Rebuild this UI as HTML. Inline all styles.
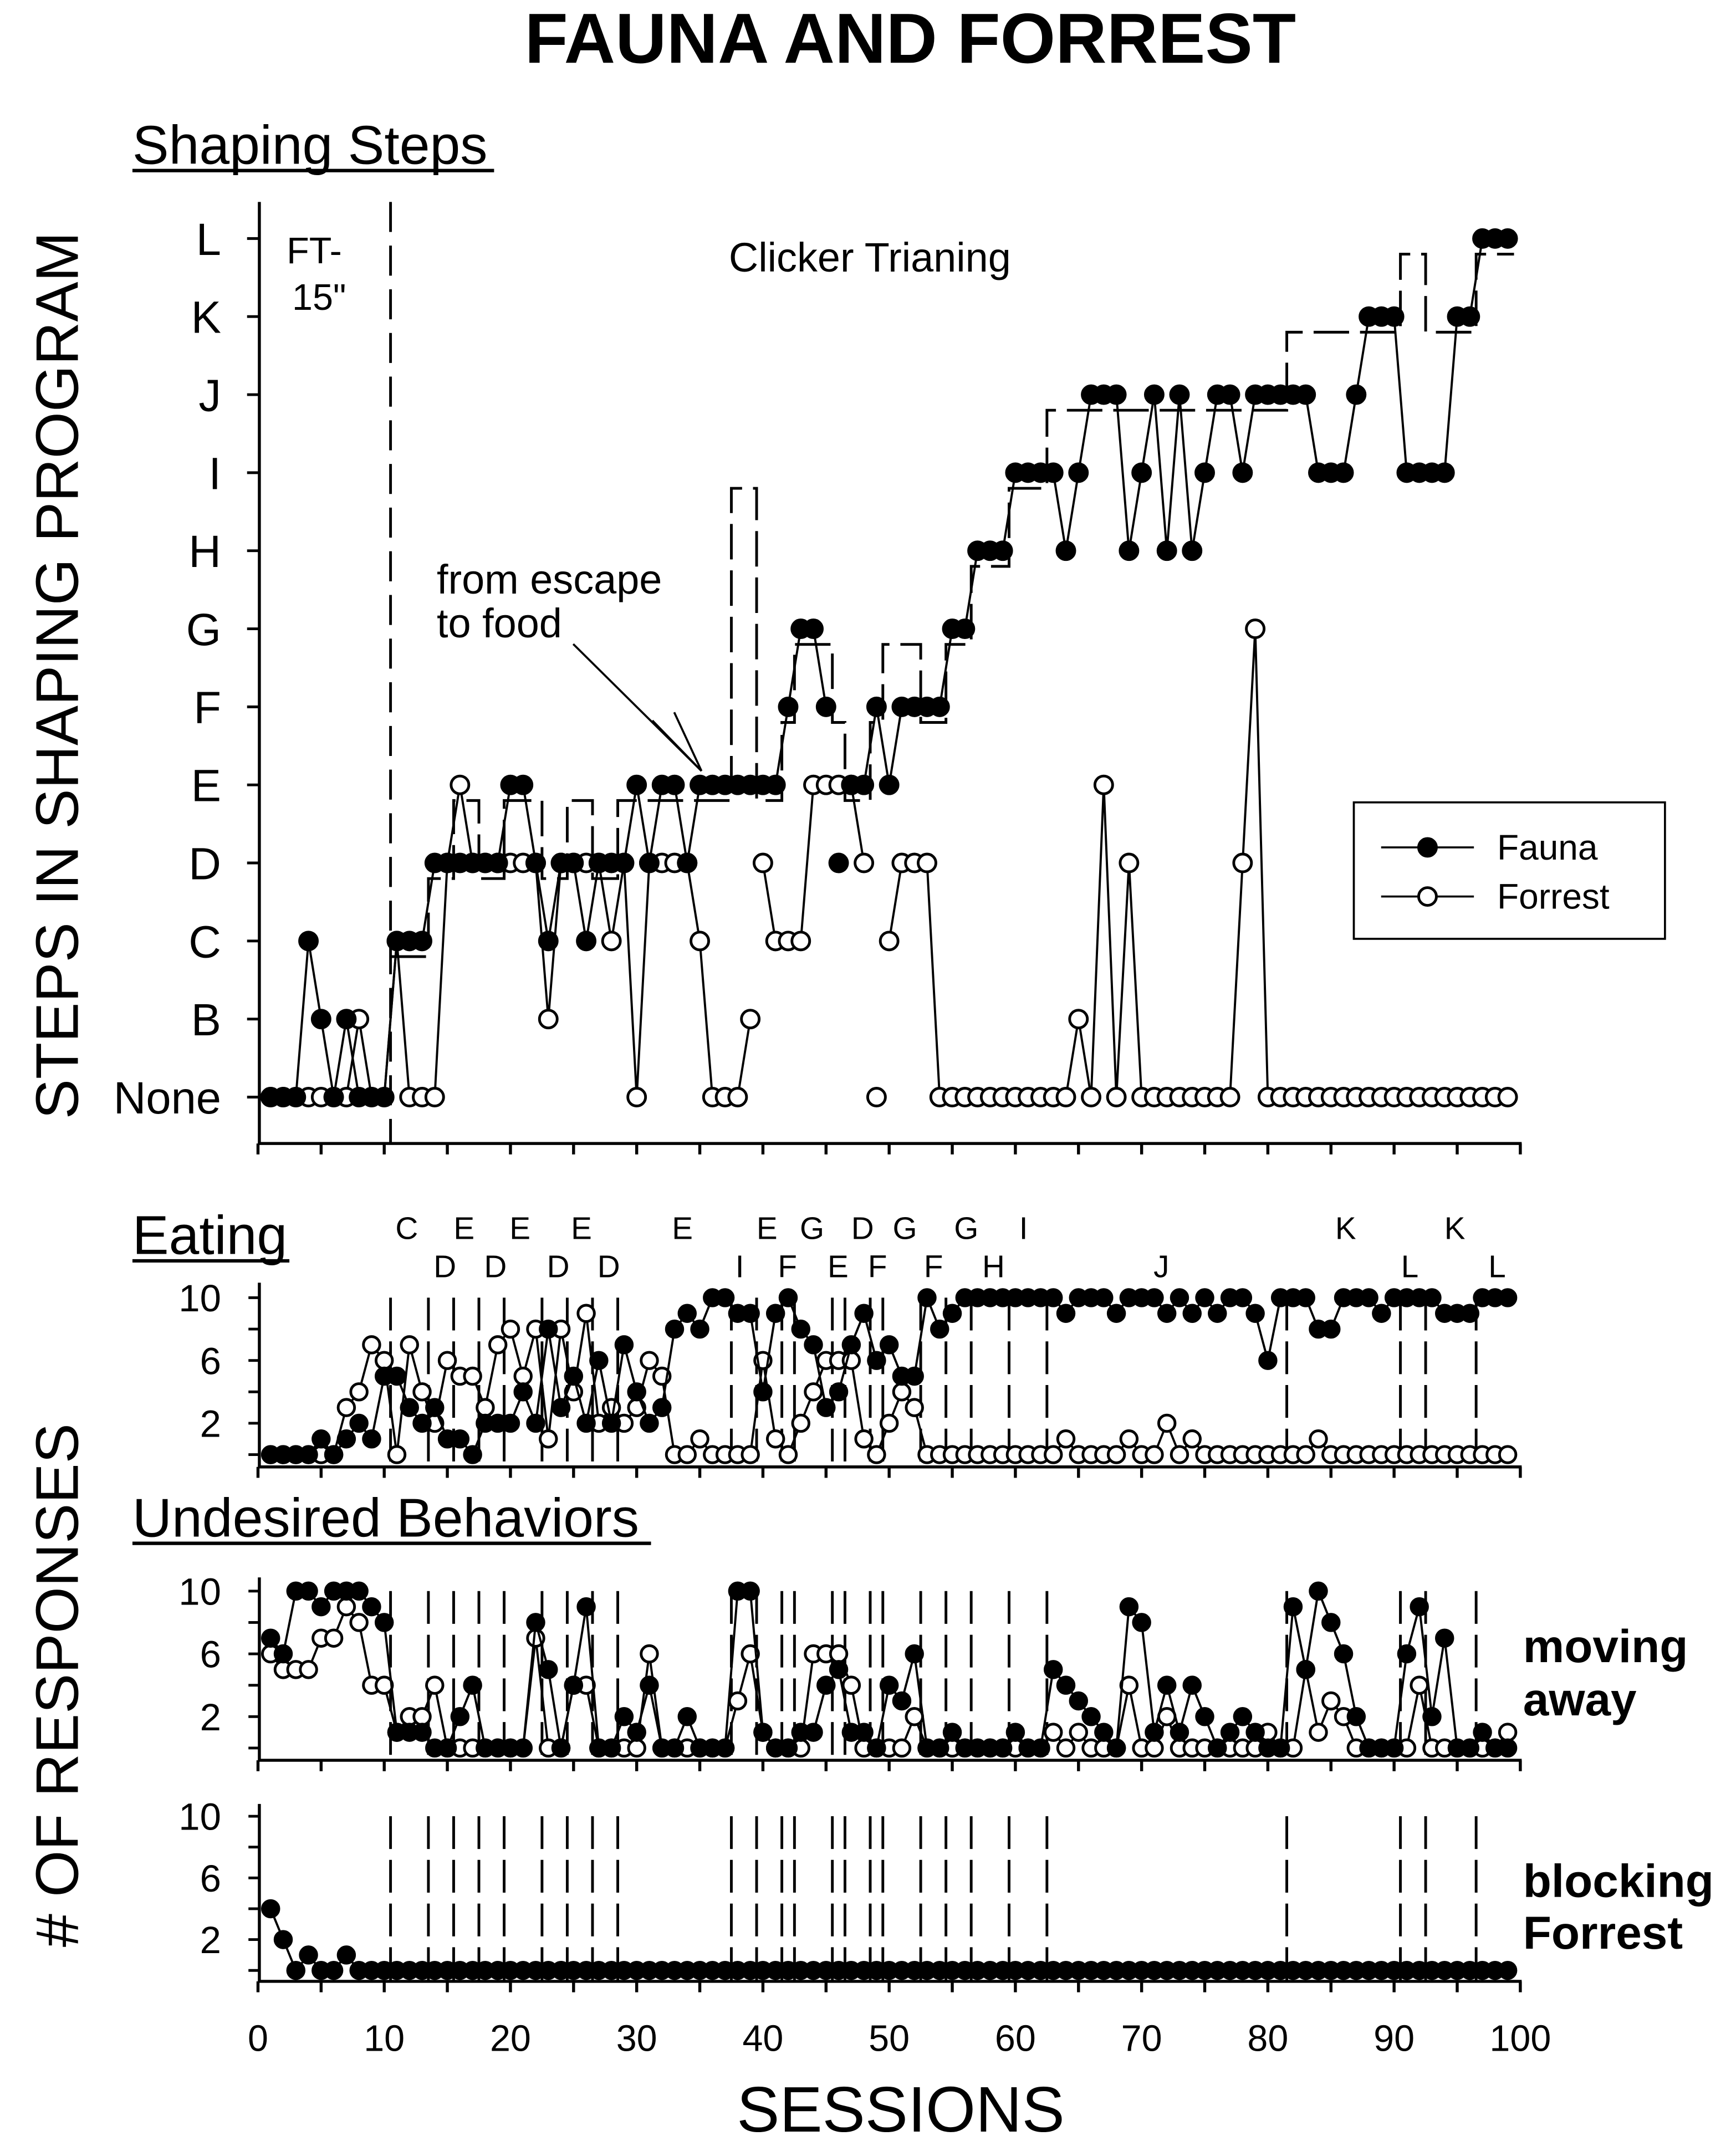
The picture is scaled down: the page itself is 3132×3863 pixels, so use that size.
<!DOCTYPE html>
<html><head><meta charset="utf-8"><style>
html,body{margin:0;padding:0;background:#fff;}
svg{display:block;}
text{font-family:"Liberation Sans",Arial,sans-serif;fill:#000;}
</style></head><body>
<svg id="chart" xmlns="http://www.w3.org/2000/svg" width="3132" height="3863" viewBox="0 0 1272 1569">
<rect x="0" y="0" width="1272" height="1569" fill="#fff"/>
<text x="667" y="46" font-size="52" font-weight="bold" text-anchor="middle">FAUNA AND FORREST</text>
<text x="97" y="120" font-size="40">Shaping Steps</text>
<line x1="97" y1="125" x2="362" y2="125" stroke="#000" stroke-width="2.5"/>
<text x="97" y="919" font-size="40">Eating</text>
<line x1="97" y1="924" x2="212" y2="924" stroke="#000" stroke-width="2.5"/>
<text x="97" y="1126" font-size="40">Undesired Behaviors</text>
<line x1="97" y1="1131" x2="477" y2="1131" stroke="#000" stroke-width="2.5"/>
<text transform="translate(57,495) rotate(-90)" font-size="44" text-anchor="middle">STEPS IN SHAPING PROGRAM</text>
<text transform="translate(57,1235) rotate(-90)" font-size="44" text-anchor="middle"># OF RESPONSES</text>
<text x="660" y="1562" font-size="47" text-anchor="middle">SESSIONS</text>
<text x="210" y="193" font-size="27">FT-</text>
<text x="214" y="227" font-size="27">15"</text>
<text x="534" y="199" font-size="30">Clicker Trianing</text>
<text x="320" y="435" font-size="30">from escape</text>
<text x="320" y="467" font-size="30">to food</text>
<g stroke="#000" stroke-width="1.5" fill="none">
<line x1="420" y1="472" x2="514" y2="565"/><line x1="478" y1="528" x2="514" y2="565"/><line x1="494" y1="522" x2="514" y2="565"/>
</g>
<g>
<rect x="992" y="588" width="228" height="100" fill="#fff" stroke="#000" stroke-width="1.5"/>
<line x1="1012" y1="621" x2="1080" y2="621" stroke="#000" stroke-width="1.5"/>
<circle cx="1046" cy="621" r="6.5" fill="#000" stroke="#000" stroke-width="2"/>
<text x="1097" y="630" font-size="26">Fauna</text>
<line x1="1012" y1="657" x2="1080" y2="657" stroke="#000" stroke-width="1.5"/>
<circle cx="1046" cy="657" r="6.5" fill="#fff" stroke="#000" stroke-width="2"/>
<text x="1097" y="666" font-size="26">Forrest</text>
</g>
<text x="1116" y="1218" font-size="34" font-weight="bold">moving</text>
<text x="1116" y="1257" font-size="34" font-weight="bold">away</text>
<text x="1116" y="1390" font-size="34" font-weight="bold">blocking</text>
<text x="1116" y="1428" font-size="34" font-weight="bold">Forrest</text>
<g id="plot"></g>
</svg>
<script>
const stepLabels = ["None","B","C","D","E","F","G","H","I","J","K","L"];
const xTickLabels = ["0","10","20","30","40","50","60","70","80","90","100"];
const countTickLabels = ["10","6","2"];
const faunaSteps = [0,0,0,2,1,0,1,0,0,0, 2,2,2,3,3,3,3,3,3,4, 4,3,2,3,3,2,3,3,3,4, 3,4,4,3,4,4,4,4,4,4, 4,5,6,6,5,3,4,4,5,4, 5,5,5,5,6,6,7,7,7,8, 8,8,8,7,8,9,9,9,7,8, 9,7,9,7,8,9,9,8,9,9, 9,9,9,8,8,8,9,10,10,10, 8,8,8,8,10,10,11,11,11];
const forrestSteps = [0,0,0,0,0,0,0,1,0,0, 2,0,0,0,3,4,3,3,3,3, 3,3,1,3,3,3,3,2,3,0, 3,3,3,3,2,0,0,0,1,3, 2,2,2,4,4,4,4,3,0,2, 3,3,3,0,0,0,0,0,0,0, 0,0,0,0,1,0,4,0,3,0, 0,0,0,0,0,0,0,3,6,0, 0,0,0,0,0,0,0,0,0,0, 0,0,0,0,0,0,0,0,0];
const faunaStepBreaks = [46,47];
const forrestStepBreaks = [40,49,50];
const criterionStart = [11,14,16,18,20,23,25,27,29,38,40,42,43,46,47,49,50,53,55,57,60,63,82,91,93,97];
const criterionLevel = [2,3,4,3,4,3,4,3,4,8,4,5,6,5,4,5,6,5,6,7,8,9,10,11,10,11];
const faunaEat = [0,0,0,0,1,0,1,2,1,5, 5,3,2,3,1,1,0,2,2,2, 4,2,8,3,5,2,6,2,7,4, 2,3,8,9,8,10,10,9,9,4, 9,10,8,7,3,4,7,9,6,7, 5,5,10,8,9,10,10,10,10,10, 10,10,10,9,10,10,10,9,10,10, 10,9,10,9,10,9,10,10,9,6, 10,10,10,8,8,10,10,10,9,10, 10,10,10,9,9,9,10,10,10];
const forrestEat = [0,0,0,0,0,0,3,4,7,6, 0,7,4,2,6,5,5,3,7,8, 5,8,1,8,4,9,2,3,2,3, 6,5,0,0,1,0,0,0,0,6, 1,0,2,4,6,6,6,1,0,2, 4,3,0,0,0,0,0,0,0,0, 0,0,0,1,0,0,0,0,1,0, 0,2,0,1,0,0,0,0,0,0, 0,0,0,1,0,0,0,0,0,0, 0,0,0,0,0,0,0,0,0];
const faunaMove = [7,6,10,10,9,10,10,10,9,8, 1,1,1,0,0,2,4,0,0,0, 0,8,5,0,4,9,0,0,2,1, 4,0,0,2,0,0,0,10,10,1, 0,0,1,1,4,5,1,1,0,4, 3,6,0,0,1,0,0,0,0,1, 0,0,5,4,3,2,1,0,9,8, 1,4,1,4,2,0,1,2,1,0, 0,9,5,10,8,6,2,0,0,0, 6,9,2,7,0,0,1,0,0];
const forrestMove = [6,5,5,5,7,7,9,8,4,4, 1,2,2,4,0,0,0,0,0,0, 0,7,0,0,4,4,0,0,0,0, 6,0,0,0,0,0,0,3,6,1, 0,0,0,6,6,6,4,0,0,0, 0,2,0,0,0,0,0,0,0,0, 0,0,1,0,1,0,0,0,4,0, 0,2,0,0,0,0,0,0,0,1, 0,0,5,1,3,2,0,0,0,0, 0,4,0,0,0,0,0,0,1];
const faunaBlock = [4,2,0,1,0,0,1,0,0,0, 0,0,0,0,0,0,0,0,0,0, 0,0,0,0,0,0,0,0,0,0, 0,0,0,0,0,0,0,0,0,0, 0,0,0,0,0,0,0,0,0,0, 0,0,0,0,0,0,0,0,0,0, 0,0,0,0,0,0,0,0,0,0, 0,0,0,0,0,0,0,0,0,0, 0,0,0,0,0,0,0,0,0,0, 0,0,0,0,0,0,0,0,0];
const phaseLines = [10.5,13.5,15.5,17.5,19.5,22.5,24.5,26.5,28.5,37.5,39.5,41.5,42.5,45.5,46.5,48.5,49.5,52.5,54.5,56.5,59.5,62.5,81.5,90.5,92.5,96.5];
const phaseLettersTop = ["C","E","E","E","E","E","G","D","G","G","I","K","K"];
const phaseLettersTopX = [298,340,381,426,500,562,595,632,663,708,750,986,1066];
const phaseLettersBottom = ["D","D","D","D","I","F","E","F","F","H","J","L","L"];
const phaseLettersBottomX = [326,363,409,446,542,577,614,643,684,728,851,1033,1097];

const NS = "http://www.w3.org/2000/svg";
const plot = document.getElementById("plot");
function mk(tag, attrs, parent){const e=document.createElementNS(NS,tag);for(const k in attrs)e.setAttribute(k,attrs[k]);(parent||plot).appendChild(e);return e;}
const xS = s => 189 + 9.25*s;
const yStep = v => 804 - v*57.2;
const panels = [
  {name:"eating", y0:1066, unit:11.5, top:940, bottom:1075, dTop:951, dBot:1074},
  {name:"moving-away", y0:1281, unit:11.5, top:1156, bottom:1290, dTop:1166, dBot:1289},
  {name:"blocking", y0:1444, unit:11.3, top:1322, bottom:1452, dTop:1331, dBot:1451}
];

function drawAxes(top,bottom,name,labelled){
  const g = mk("g",{stroke:"#000","stroke-width":2.2,fill:"none"});
  
  
  mk("line",{x1:190,y1:top,x2:190,y2:bottom+1},g);
  mk("line",{x1:189,y1:bottom,x2:xS(100)+1,y2:bottom},g);
  for(let s=0;s<=100;s+=5){mk("line",{x1:xS(s),y1:bottom,x2:xS(s),y2:bottom+8},g);}
  if(labelled){
    xTickLabels.forEach((t,i)=>{
      const tx = mk("text",{x:xS(i*10),y:1503,"font-size":27,"text-anchor":"middle"});
      tx.textContent=t;
      
      
    });
  }
}
function drawSeries(vals,yFn,filled,breaks,r,name){
  const g = mk("g",{});
  
  
  let d="";
  vals.forEach((v,i)=>{const s=i+1;const cmd=(i===0||breaks.indexOf(s)>=0)?"M":"L";d+=cmd+xS(s).toFixed(2)+","+yFn(v).toFixed(2)+" ";});
  const p = mk("path",{d:d,fill:"none",stroke:"#000","stroke-width":1.6},g);
  
  
  vals.forEach((v,i)=>{
    const c = mk("circle",{cx:xS(i+1),cy:yFn(v),r:r,fill:filled?"#000":"#fff",stroke:"#000","stroke-width":2},g);
    
    
  });
}

drawAxes(148,838,"steps",false);
stepLabels.forEach((t,i)=>{
  mk("line",{x1:181,y1:yStep(i),x2:190,y2:yStep(i),stroke:"#000","stroke-width":2});
  const tx = mk("text",{x:162,y:yStep(i)+12,"font-size":33,"text-anchor":"end"});
  tx.textContent=t;
  
  
});
const ftLine = mk("line",{x1:xS(10.5),y1:148,x2:xS(10.5),y2:838,stroke:"#000","stroke-width":2,"stroke-dasharray":"22 10"});


let cd="";
criterionStart.forEach((s,i)=>{
  const end = (i+1<criterionStart.length)?criterionStart[i+1]:100;
  const y = yStep(criterionLevel[i]-0.2);
  cd += (i===0?"M":"L")+xS(s-0.5).toFixed(2)+","+y.toFixed(2)+" L"+xS(end-0.5).toFixed(2)+","+y.toFixed(2)+" ";
});
const crit = mk("path",{d:cd,fill:"none",stroke:"#000","stroke-width":2,"stroke-dasharray":"26 8"});


drawSeries(forrestSteps,yStep,false,forrestStepBreaks,6.5,"forrest-steps");
drawSeries(faunaSteps,yStep,true,faunaStepBreaks,6.5,"fauna-steps");

const lowerData = [[faunaEat,forrestEat],[faunaMove,forrestMove],[faunaBlock,null]];
panels.forEach((P,pi)=>{
  const yF = v => P.y0 - v*P.unit;
  drawAxes(P.top,P.bottom,P.name,pi===2);
  for(let v=0;v<=10;v+=2){mk("line",{x1:182,y1:yF(v),x2:190,y2:yF(v),stroke:"#000","stroke-width":2});}
  countTickLabels.forEach(t=>{
    const tx = mk("text",{x:162,y:yF(+t)+10,"font-size":28,"text-anchor":"end"});
    tx.textContent=t;
    
    
  });
  phaseLines.forEach(s=>{
    const l = mk("line",{x1:xS(s),y1:P.dTop,x2:xS(s),y2:P.dBot,stroke:"#000","stroke-width":2,"stroke-dasharray":"24 8"});
    
    
  });
  if(lowerData[pi][1]) drawSeries(lowerData[pi][1],yF,false,[],6,"forrest-"+P.name);
  drawSeries(lowerData[pi][0],yF,true,[],6,"fauna-"+P.name);
});
phaseLettersTop.forEach((t,i)=>{
  const tx = mk("text",{x:phaseLettersTopX[i],y:908,"font-size":23,"text-anchor":"middle"});
  tx.textContent=t;
  
  
});
phaseLettersBottom.forEach((t,i)=>{
  const tx = mk("text",{x:phaseLettersBottomX[i],y:936,"font-size":23,"text-anchor":"middle"});
  tx.textContent=t;
  
  
});
</script>
</body></html>
